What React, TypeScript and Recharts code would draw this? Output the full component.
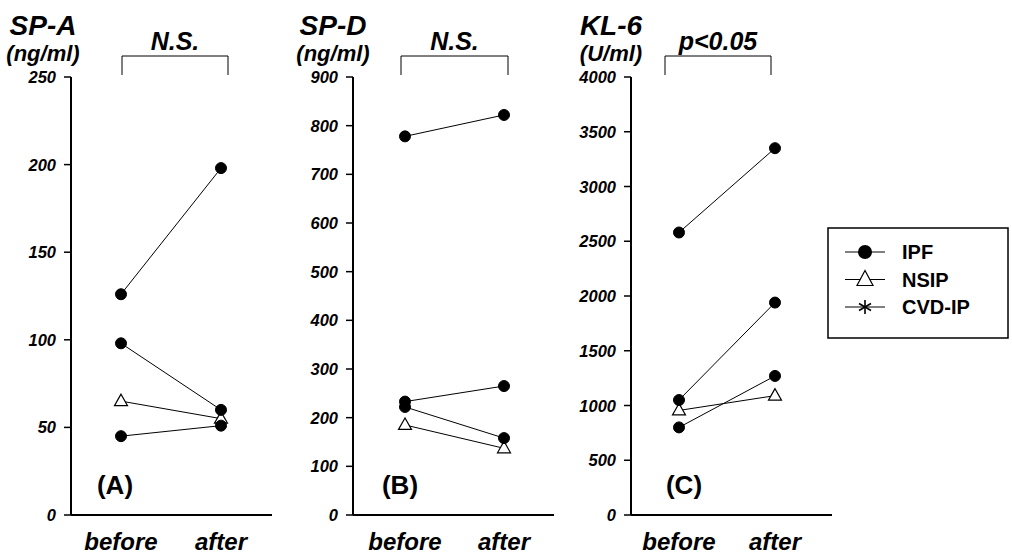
import { LineChart, Line, XAxis, YAxis } from 'recharts'

const phases = ['before', 'after']

// each row is one patient: [before, after]
const spaIpf = [
  [126, 198],
  [98, 60],
  [45, 51],
]
const spaNsip = [[65, 55]]
const spaTicks = [0, 50, 100, 150, 200, 250]

const spdIpf = [
  [778, 822],
  [233, 265],
  [222, 158],
]
const spdNsip = [[185, 137]]
const spdTicks = [0, 100, 200, 300, 400, 500, 600, 700, 800, 900]

const klIpf = [
  [2580, 3350],
  [1050, 1940],
  [800, 1270],
]
const klNsip = [[955, 1090]]
const klTicks = [0, 500, 1000, 1500, 2000, 2500, 3000, 3500, 4000]

const legendItems = ['IPF', 'NSIP', 'CVD-IP']

const FONT = '"Liberation Sans", Arial, Helvetica, sans-serif'

function buildRows(ipf: number[][], nsip: number[][]) {
  return phases.map((phase, i) => {
    const row: Record<string, string | number> = { phase }
    ipf.forEach((p, k) => (row['ipf' + k] = p[i]))
    nsip.forEach((p, k) => (row['nsip' + k] = p[i]))
    return row
  })
}

const Triangle = (props: any) => {
  const { cx, cy, index } = props
  if (cx == null || cy == null) return <g key={index} />
  return (
    <path
      key={index}
      d={`M${cx},${cy - 7} L${cx - 6.5},${cy + 4.5} L${cx + 6.5},${cy + 4.5} Z`}
      fill="#fff"
      stroke="#000"
      strokeWidth={1.2}
    />
  )
}

const YTick = (props: any) => {
  const { x, y, payload } = props
  return (
    <text
      x={x}
      y={y + 6}
      textAnchor="end"
      fontSize={16.5}
      fontWeight="bold"
      fontStyle="italic"
      fontFamily={FONT}
      fill="#000"
    >
      {payload.value}
    </text>
  )
}

type PanelProps = {
  left: number
  ipf: number[][]
  nsip: number[][]
  ticks: number[]
  padding: { left: number; right: number }
}

function Panel({ left, ipf, nsip, ticks, padding }: PanelProps) {
  const data = buildRows(ipf, nsip)
  return (
    <div style={{ position: 'absolute', left, top: 0 }}>
      <LineChart width={280} height={555} data={data} margin={{ top: 77, right: 9, bottom: 0, left: 10 }}>
        <XAxis
          dataKey="phase"
          height={40}
          interval={0}
          padding={padding}
          tickLine={false}
          tickMargin={12}
          axisLine={{ stroke: '#000', strokeWidth: 2 }}
          tick={{ fontSize: 24, fontWeight: 'bold', fontStyle: 'italic', fill: '#000', fontFamily: FONT }}
        />
        <YAxis
          width={60}
          domain={[0, ticks[ticks.length - 1]]}
          ticks={ticks}
          interval={0}
          tickSize={7}
          tickMargin={8}
          axisLine={{ stroke: '#000', strokeWidth: 2 }}
          tickLine={{ stroke: '#000', strokeWidth: 1.5 }}
          tick={<YTick />}
        />
        {nsip.map((_, k) => (
          <Line
            key={'nsip' + k}
            dataKey={'nsip' + k}
            stroke="#000"
            strokeWidth={1}
            dot={Triangle}
            isAnimationActive={false}
          />
        ))}
        {ipf.map((_, k) => (
          <Line
            key={'ipf' + k}
            dataKey={'ipf' + k}
            stroke="#000"
            strokeWidth={1}
            dot={{ r: 5.5, fill: '#000', stroke: '#000', strokeWidth: 1 }}
            isAnimationActive={false}
          />
        ))}
      </LineChart>
    </div>
  )
}

const annotations = [
  { title: 'SP-A', unit: '(ng/ml)', tx: 43, b1: 122, b2: 228, sig: 'N.S.', letter: '(A)', lx: 115 },
  { title: 'SP-D', unit: '(ng/ml)', tx: 333, b1: 401, b2: 508, sig: 'N.S.', letter: '(B)', lx: 400 },
  { title: 'KL-6', unit: '(U/ml)', tx: 611, b1: 665, b2: 771, sig: 'p<0.05', letter: '(C)', lx: 684 },
]

function Overlay() {
  const bold = { fontFamily: FONT, fontWeight: 'bold' as const, fill: '#000' }
  return (
    <svg
      width={1012}
      height={555}
      style={{ position: 'absolute', left: 0, top: 0, pointerEvents: 'none' }}
    >
      {annotations.map((a) => (
        <g key={a.title}>
          <text x={a.tx} y={35} textAnchor="middle" fontSize={28} fontStyle="italic" {...bold}>
            {a.title}
          </text>
          <text x={a.tx} y={61} textAnchor="middle" fontSize={22} fontStyle="italic" {...bold}>
            {a.unit}
          </text>
          <path d={`M${a.b1},75 L${a.b1},56 L${a.b2},56 L${a.b2},75`} fill="none" stroke="#000" strokeWidth={1} />
          <text x={(a.b1 + a.b2) / 2} y={50} textAnchor="middle" fontSize={25} fontStyle="italic" {...bold}>
            {a.sig}
          </text>
          <text x={a.lx} y={494} textAnchor="middle" fontSize={26} {...bold}>
            {a.letter}
          </text>
        </g>
      ))}
      <rect x={828} y={228} width={180} height={110} fill="none" stroke="#000" strokeWidth={1.5} />
      {legendItems.map((name, i) => {
        const y = 252 + i * 27.5
        const cx = 865
        return (
          <g key={name}>
            <line x1={845} x2={885} y1={y} y2={y} stroke="#000" strokeWidth={1} />
            {i === 0 && <circle cx={cx} cy={y} r={7} fill="#000" />}
            {i === 1 && (
              <path
                d={`M${cx},${y - 9} L${cx - 8},${y + 6} L${cx + 8},${y + 6} Z`}
                fill="#fff"
                stroke="#000"
                strokeWidth={1.2}
              />
            )}
            {i === 2 && (
              <g stroke="#000" strokeWidth={1.6}>
                <line x1={cx} x2={cx} y1={y - 7} y2={y + 7} />
                <line x1={cx - 6} x2={cx + 6} y1={y - 3.5} y2={y + 3.5} />
                <line x1={cx - 6} x2={cx + 6} y1={y + 3.5} y2={y - 3.5} />
              </g>
            )}
            <text x={902} y={y + 7} fontSize={20} {...bold}>
              {name}
            </text>
          </g>
        )
      })}
    </svg>
  )
}

export default function App() {
  return (
    <div style={{ position: 'absolute', left: 0, top: 0, width: 1012, height: 555, background: '#fff' }}>
      <Panel left={1} ipf={spaIpf} nsip={spaNsip} ticks={spaTicks} padding={{ left: 50, right: 51 }} />
      <Panel left={283} ipf={spdIpf} nsip={spdNsip} ticks={spdTicks} padding={{ left: 52, right: 50 }} />
      <Panel left={561} ipf={klIpf} nsip={klNsip} ticks={klTicks} padding={{ left: 48, right: 57 }} />
      <Overlay />
    </div>
  )
}
